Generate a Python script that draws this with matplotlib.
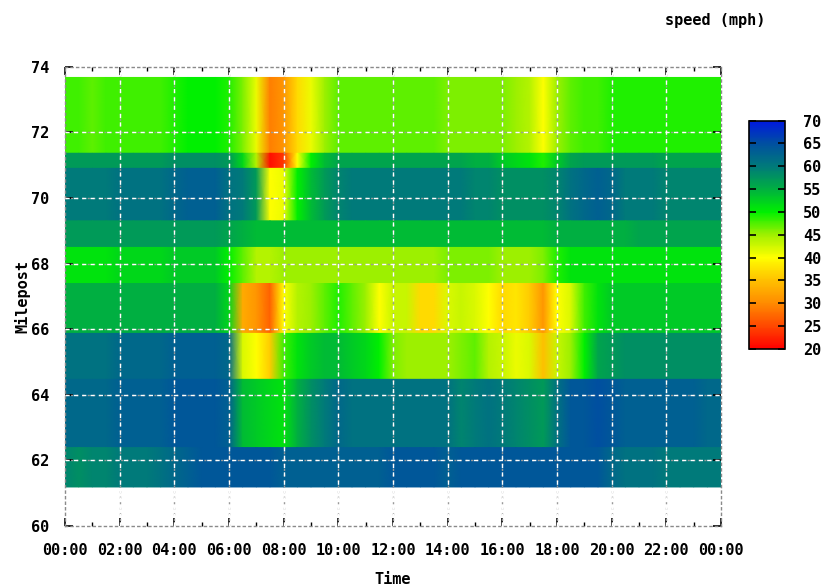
import numpy as np
import matplotlib
matplotlib.use("Agg")
import matplotlib.pyplot as plt
from matplotlib.colors import LinearSegmentedColormap

# half-hour sample times (hours)
hours = np.arange(0, 24.5, 0.5)

# milepost row edges (top -> bottom)
row_edges = [73.67, 71.36, 70.90, 69.30, 68.49, 67.39, 65.87, 64.47, 62.39, 61.19]

# speed (mph) per row, one value per half hour 0:00 .. 24:00
row1 = [48, 48, 47, 48, 48, 48, 48, 48, 49, 50, 50, 50, 49, 46, 41, 29, 31, 37, 41, 45,
        47, 47, 47, 47, 47, 47, 47, 47, 46, 46, 46, 46, 46, 45, 44, 40, 45, 47, 48, 48,
        49, 49, 49, 49, 49, 49, 49, 49, 49]
row2 = [57, 57, 57, 57, 57, 57, 57, 57, 58, 58, 58, 58, 57, 52, 44, 21, 24, 40, 50, 54,
        56, 56, 56, 56, 56, 56, 56, 56, 56, 56, 55, 55, 53, 52, 51, 49, 53, 56, 57, 57,
        57, 57, 57, 57, 56, 56, 56, 56, 56]
row3 = [60, 60, 60, 60, 61, 61, 61, 61, 62, 63, 63, 63, 61, 60, 57, 40, 41, 50, 54, 57,
        59, 60, 60, 60, 60, 60, 60, 60, 60, 60, 59, 59, 58, 58, 58, 58, 59, 61, 62, 63,
        62, 60, 60, 60, 59, 59, 59, 59, 59]
row4 = [57, 57, 57, 57, 57, 57, 57, 57, 57, 57, 57, 57, 56, 55, 54, 54, 54, 54, 54, 54,
        54, 54, 54, 54, 54, 54, 54, 54, 54, 54, 54, 54, 54, 54, 54, 54, 55, 55, 55, 55,
        55, 55, 56, 56, 56, 56, 56, 56, 56]
row5 = [51, 51, 51, 51, 52, 52, 52, 52, 53, 53, 53, 53, 50, 47, 44, 44, 45, 45, 45, 45,
        45, 45, 45, 45, 45, 45, 45, 45, 46, 46, 46, 46, 45, 45, 45, 46, 49, 51, 51, 51,
        51, 51, 51, 51, 51, 51, 51, 51, 51]
row6 = [55, 55, 55, 55, 55, 55, 55, 55, 55, 55, 55, 55, 52, 33, 31, 27, 40, 44, 45, 47,
        49, 47, 45, 40, 43, 43, 37, 37, 42, 43, 42, 40, 37, 38, 36, 31, 40, 42, 48, 51,
        53, 53, 53, 53, 53, 53, 53, 53, 53]
row7 = [61, 61, 61, 61, 62, 62, 62, 62, 63, 63, 63, 63, 62, 42, 40, 36, 48, 51, 53, 54,
        54, 53, 52, 50, 46, 45, 45, 45, 45, 46, 47, 44, 43, 41, 42, 35, 43, 45, 50, 56,
        57, 58, 58, 58, 58, 58, 58, 58, 58]
row8 = [62, 62, 62, 62, 63, 63, 63, 63, 64, 64, 64, 64, 63, 54, 53, 52, 51, 55, 58, 60,
        62, 61, 61, 61, 61, 61, 61, 61, 61, 59, 60, 61, 60, 59, 58, 57, 61, 64, 64, 65,
        64, 63, 63, 63, 63, 63, 63, 62, 62]
row9 = [59, 58, 59, 59, 60, 60, 60, 61, 62, 63, 64, 64, 64, 64, 64, 64, 63, 63, 63, 63,
        63, 63, 63, 63, 64, 64, 64, 64, 63, 64, 64, 64, 64, 64, 64, 64, 64, 64, 64, 64,
        62, 61, 61, 61, 60, 60, 60, 60, 60]
rows = [row1, row2, row3, row4, row5, row6, row7, row8, row9]

xticks = np.arange(0, 25, 2)
xticklabels = ["%02d:00" % (h % 24) for h in xticks]
yticks = np.arange(60, 75, 2)
cbar_ticks = np.arange(20, 75, 5)

cmap = LinearSegmentedColormap.from_list("speed", [
    (0.0, "#ff0000"), (0.1, "#ff4800"), (0.2, "#ff8c00"), (0.3, "#ffc000"),
    (0.4, "#ffff00"), (0.5, "#a0f000"), (0.6, "#00f000"), (0.7, "#00b040"),
    (0.8, "#007a7a"), (0.9, "#0050a0"), (1.0, "#0018e0")])

font = dict(family="DejaVu Sans Mono", weight="bold", size=11)

fig = plt.figure(figsize=(8.28, 5.87), dpi=100)
ax = fig.add_axes([0.0785, 0.1039, 0.7923, 0.7826])

# each row: duplicate values at its top and bottom edge -> sharp rows, smooth in time
X, Y, Z = [], [], []
for i, r in enumerate(rows):
    for y in (row_edges[i], row_edges[i + 1]):
        X.append(hours)
        Y.append(np.full(len(hours), y))
        Z.append(r)
X, Y, Z = np.array(X), np.array(Y), np.array(Z, dtype=float)
mesh = ax.pcolormesh(X, Y, Z, cmap=cmap, vmin=20, vmax=70, shading="gouraud")

ax.set_xlim(0, 24)
ax.set_ylim(60, 74)

# gnuplot-like grid: gray dots with white dashes on top
for xv in xticks[1:-1]:
    ax.axvline(xv, color="#9a9a9a", lw=1, dashes=(1.5, 2.5), zorder=3)
    ax.axvline(xv, color="white", lw=1, dashes=(3, 3), zorder=4)
for yv in yticks[1:-1]:
    ax.axhline(yv, color="#9a9a9a", lw=1, dashes=(1.5, 2.5), zorder=3)
    ax.axhline(yv, color="white", lw=1, dashes=(3, 3), zorder=4)

for s in ax.spines.values():
    s.set_color("#8a8a8a")
    s.set_linestyle((0, (1.5, 2.5)))
    s.set_linewidth(1)

ax.set_xticks(xticks)
ax.set_xticklabels(xticklabels, fontdict=font)
ax.set_xticks(np.arange(1, 24, 2), minor=True)
ax.set_yticks(yticks)
ax.set_yticklabels([str(v) for v in yticks], fontdict=font)
ax.tick_params(which="major", direction="in", length=6, width=1.2, color="black",
               top=True, right=True, pad=12)
ax.tick_params(which="minor", direction="in", length=3, width=1, color="black",
               top=True, bottom=True)
ax.tick_params(axis="y", pad=11)

ax.set_xlabel("Time", fontdict=font, labelpad=10)
ax.set_ylabel("Milepost", fontdict=font, labelpad=1)

cax = fig.add_axes([0.905, 0.4055, 0.043, 0.389])
cb = fig.colorbar(mesh, cax=cax, ticks=cbar_ticks)
cb.outline.set_linewidth(1.2)
cax.tick_params(direction="in", length=5, width=1.2, left=True, right=True, pad=13)
cax.set_yticklabels([str(v) for v in cbar_ticks], fontdict=font)

fig.text(0.924, 0.965, "speed (mph)", ha="right", va="center", **font)

fig.savefig("out.png", dpi=100)
